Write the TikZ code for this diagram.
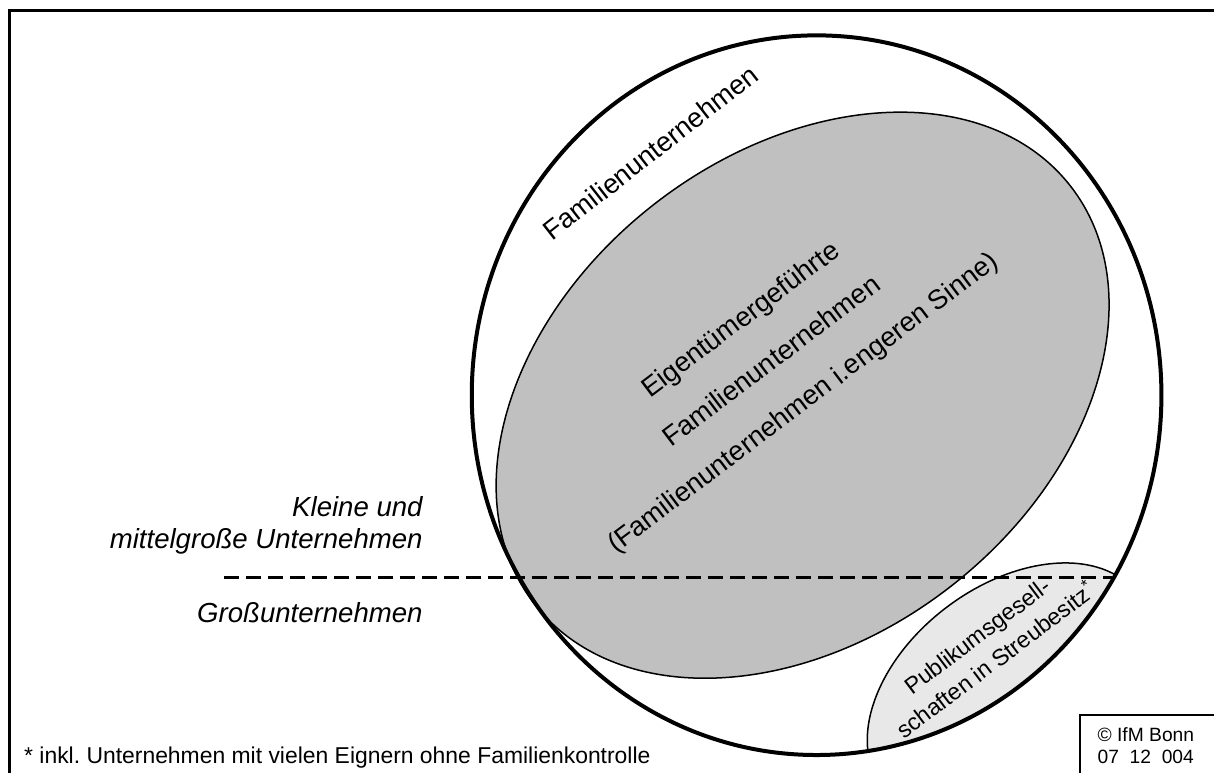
\documentclass[tikz,border=0pt]{standalone}
\usepackage{fontspec}
\setmainfont{Liberation Sans}
\usepackage{tikz}
\usetikzlibrary{positioning}
\definecolor{ownergray}{RGB}{192,192,192}
\definecolor{publicgray}{RGB}{232,232,232}
\tikzset{x=1bp, y=1bp,
 frameline/.style={draw=black, line width=3bp},
 famcircle/.style={draw=black, line width=4bp},
 ownerblob/.style={draw=black, fill=ownergray, line width=1.5bp},
 publicblob/.style={draw=black, fill=publicgray, line width=1.5bp},
 sizeline/.style={draw=black, line width=3bp, dash pattern=on 15bp off 7bp},
 bigtext/.style={inner sep=0pt, font=\fontsize{27.4}{32}\selectfont},
 sidetext/.style={inner sep=0pt, align=right, font=\fontsize{27.7}{32}\selectfont\itshape},
 }

\begin{document}
\begin{tikzpicture}
        \useasboundingbox (0,0) rectangle (1214.6,772.4);
        \fill[white] (-30,-30) rectangle (1250,800);
        \draw[frameline] (9.5,-30) |- (1250,761.5);
        \draw[line width=2bp] (1081,-30) |- (1250,57);
        \draw[ownerblob, rotate around={38:(803,377)}] (803,377) ellipse (340 and 242);
        \begin{scope}
            \clip (817,377) ellipse (345 and 360);
            \draw[publicblob, rotate around={37:(1010,82)}] (1010,82) ellipse (160 and 104);
        \end{scope}
        \draw[famcircle] (817,377) ellipse (345 and 360);
        \coordinate (dashL) at (224,195);
        \coordinate (dashR) at (1113,195);
        \draw[sizeline] (dashL) -- (dashR);
        \node[bigtext, rotate=38] (family) at (651,620) {Familienunternehmen};
        \node[bigtext, rotate=37, align=center, font=\fontsize{27.4}{52}\selectfont] (owner) at (773,410)
            {Eigentümergeführte\\Familienunternehmen\\(Familienunternehmen i.engeren Sinne)};
        \node[rotate=37, align=center, inner sep=0pt, font=\fontsize{23.3}{31}\selectfont] (public) at (987,124)
            {Publikumsgesell-\\schaften in Streubesitz\textsuperscript{*}};
        \node[sidetext, anchor=base east] (sme) at (423,224) {Kleine und\\mittelgroße Unternehmen};
        \node[sidetext, anchor=base east] (large) at (423,150) {Großunternehmen};
        \node[anchor=base west, inner sep=0pt, font=\fontsize{23}{27}\selectfont] (note) at (24,9)
            {* inkl.\ Unternehmen mit vielen Eignern ohne Familienkontrolle};
        \node[anchor=base west, align=left, inner sep=0pt, font=\fontsize{19.3}{22}\selectfont] (ifm) at (1098,9)
            {\textcopyright{} IfM Bonn\\07\ \ 12\ \ 004};
    \end{tikzpicture}
\end{document}
